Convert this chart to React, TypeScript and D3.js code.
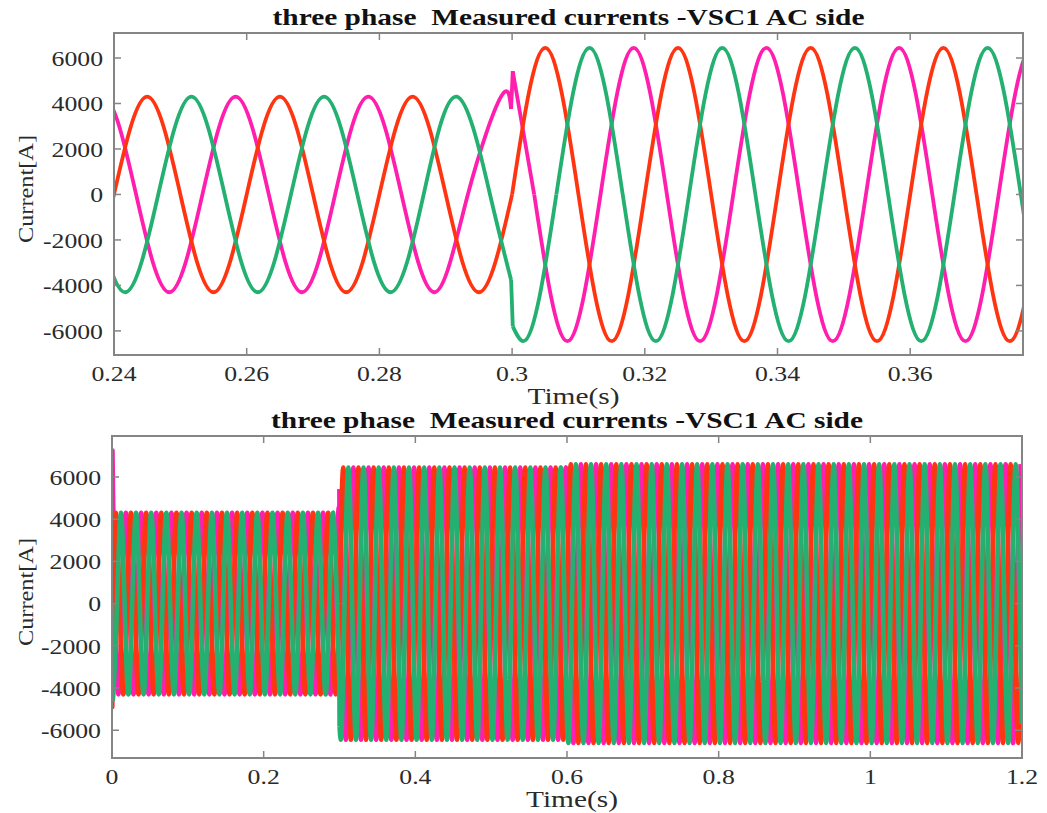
import React from "react";
import * as d3 from "d3";

// 50 Hz phase currents, sampled at their quarter-cycle turning points (peaks / zeros)
const QUARTER = 0.005; // s
const T_END = 1.2;

// peak current per operating interval
const peakStart = [0, 0.3, 0.6];
const peakValue = [4300, 6450, 6600];

// draw order: pink, red, green (green ends up on top)
const phaseColor = ["#ff1eae", "#ff3512", "#23b070"];
const phaseFirstTurn = [0.00333, 0, 0.00167];
const phaseTurnSign = [
  [0, -1, 0, 1],
  [0, 1, 0, -1],
  [-1, 0, 1, 0],
];
// start-up transient at t = 0
const phaseStartup = [
  [[0, 0], [0.0006, 7250], [0.00333, 0]],
  [[0, 0], [0.0004, -4900], [0.0012, 0]],
  [[0, 0], [0.0008, -3800]],
];
// step change at t = 0.3 s
const phaseEvent = [
  [[0.29985, 3760], [0.3001, 5420]],
  [[0.3, 0]],
  [[0.29985, -3760], [0.3001, -5800]],
];
// value at the right edge, 1.2 s
const phaseEnd = [[[1.2, 5700]], [], [[1.2, -5700]]];

const yTicks = [-6000, -4000, -2000, 0, 2000, 4000, 6000];
const zoomTicks = [0.24, 0.26, 0.28, 0.3, 0.32, 0.34, 0.36];
const fullTicks = [0, 0.2, 0.4, 0.6, 0.8, 1, 1.2];

const TITLE = "three phase  Measured currents -VSC1 AC side";
const FONT = "'Liberation Serif', 'Times New Roman', serif";

type Pt = [number, number];
type Piece = { curve: "natural" | "linear" | "monotone"; pts: Pt[] };

function peakAt(t: number) {
  let p = peakValue[0];
  peakStart.forEach((s, i) => {
    if (t >= s) p = peakValue[i];
  });
  return p;
}

function phasePieces(i: number): Piece[] {
  const turns: Pt[] = [];
  for (let k = 0; ; k++) {
    const t = phaseFirstTurn[i] + k * QUARTER;
    if (t > T_END + 1e-9) break;
    turns.push([t, phaseTurnSign[i][k % 4] * peakAt(t)]);
  }
  const start = phaseStartup[i] as Pt[];
  const ev = phaseEvent[i] as Pt[];
  const s = start[start.length - 1];
  const e0 = ev[0];
  const e1 = ev[ev.length - 1];
  const before: Pt[] = [
    s,
    ...turns.filter((p) => p[0] > s[0] + 1e-6 && p[0] < e0[0] - 1e-6),
    e0,
  ];
  const later = turns.filter((p) => p[0] > e1[0] + 1e-6);
  // bridge from the jump to the next zero crossing without overshoot
  let bridge: Pt[] = [e1];
  let rest: Pt[] = [e1, ...later];
  if (e1[1] !== 0) {
    const z = later.findIndex((p) => p[1] === 0);
    bridge = [e1, ...later.slice(0, z + 1)];
    rest = later.slice(z);
  }
  const end: Pt[] = [rest[rest.length - 1], ...(phaseEnd[i] as Pt[])];
  return [
    { curve: "linear", pts: start },
    { curve: "natural", pts: before },
    { curve: "linear", pts: ev },
    { curve: "monotone", pts: bridge },
    { curve: "natural", pts: rest },
    { curve: "linear", pts: end },
  ];
}

const pieces = phaseColor.map((_, i) => phasePieces(i));

interface PanelProps {
  id: string;
  x0: number;
  x1: number;
  y0: number;
  y1: number;
  xDomain: [number, number];
  yDomain: [number, number];
  xTicks: number[];
  lineWidth: number;
}

function Panel({ id, x0, x1, y0, y1, xDomain, yDomain, xTicks, lineWidth }: PanelProps) {
  const x = d3.scaleLinear().domain(xDomain).range([x0, x1]);
  const y = d3.scaleLinear().domain(yDomain).range([y1, y0]);
  const curves = {
    natural: d3.curveNatural,
    linear: d3.curveLinear,
    monotone: d3.curveMonotoneX,
  };
  const pathOf = (p: Piece) =>
    d3
      .line<Pt>()
      .x((d) => x(d[0]))
      .y((d) => y(d[1]))
      .curve(curves[p.curve])(p.pts) || "";
  const tick = 7;
  const axisColor = "#858585";
  const textColor = "#2a2a2a";
  const cx = (x0 + x1) / 2;
  const cy = (y0 + y1) / 2;

  return (
    <g>
      <defs>
        <clipPath id={id}>
          <rect x={x0} y={y0} width={x1 - x0} height={y1 - y0} />
        </clipPath>
      </defs>
      <g clipPath={`url(#${id})`} fill="none" strokeWidth={lineWidth} strokeLinejoin="round">
        {pieces.map((ps, i) =>
          ps.map((p, j) => <path key={`${i}-${j}`} d={pathOf(p)} stroke={phaseColor[i]} />)
        )}
      </g>
      <rect x={x0} y={y0} width={x1 - x0} height={y1 - y0} fill="none" stroke={axisColor} strokeWidth={2} />
      <g stroke={axisColor} strokeWidth={1.5}>
        {xTicks.map((t) => (
          <g key={t}>
            <line x1={x(t)} x2={x(t)} y1={y1} y2={y1 - tick} />
            <line x1={x(t)} x2={x(t)} y1={y0} y2={y0 + tick} />
          </g>
        ))}
        {yTicks.map((v) => (
          <g key={v}>
            <line x1={x0} x2={x0 + tick} y1={y(v)} y2={y(v)} />
            <line x1={x1} x2={x1 - tick} y1={y(v)} y2={y(v)} />
          </g>
        ))}
      </g>
      <g fontFamily={FONT} fontSize={22} fill={textColor}>
        {xTicks.map((t) => (
          <text key={t} transform={`translate(${x(t)},${y1 + 26}) scale(1.17,1)`} textAnchor="middle">
            {String(t)}
          </text>
        ))}
        {yTicks.map((v) => (
          <text key={v} transform={`translate(${x0 - 11},${y(v)}) scale(1.17,1)`} textAnchor="end" dy="0.35em">
            {String(v)}
          </text>
        ))}
        <text
          x={cx + 5}
          y={y1 + 49}
          fontSize={23}
          textAnchor="middle"
          textLength={92}
          lengthAdjust="spacingAndGlyphs"
        >
          Time(s)
        </text>
        <text
          transform={`translate(33,${cy - 5}) rotate(-90)`}
          textAnchor="middle"
          textLength={108}
          lengthAdjust="spacingAndGlyphs"
        >
          Current[A]
        </text>
        <text
          x={cx}
          y={y0 - 8}
          fontSize={24}
          fontWeight="bold"
          fill="#111"
          textAnchor="middle"
          textLength={592}
          lengthAdjust="spacingAndGlyphs"
          style={{ whiteSpace: "pre" }}
        >
          {TITLE}
        </text>
      </g>
    </g>
  );
}

export default function App() {
  return (
    <svg
      width={1047}
      height={813}
      style={{ position: "absolute", left: 0, top: 0, background: "#fff" }}
    >
      <Panel
        id="clip-zoom"
        x0={114}
        x1={1023}
        y0={33}
        y1={355}
        xDomain={[0.24, 0.377]}
        yDomain={[-7060, 7100]}
        xTicks={zoomTicks}
        lineWidth={3.8}
      />
      <Panel
        id="clip-full"
        x0={112}
        x1={1022}
        y0={436}
        y1={758}
        xDomain={[0, 1.2]}
        yDomain={[-7314, 7939]}
        xTicks={fullTicks}
        lineWidth={4.6}
      />
    </svg>
  );
}
